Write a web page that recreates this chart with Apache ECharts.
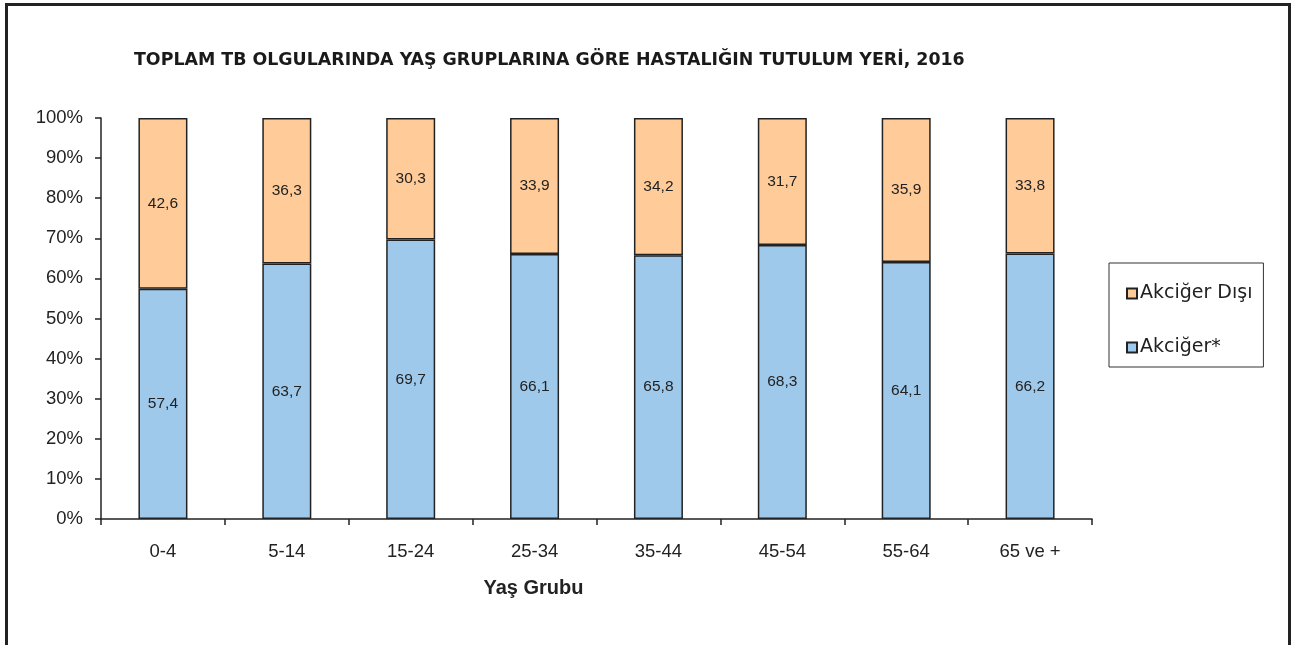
<!DOCTYPE html>
<html>
<head>
<meta charset="utf-8">
<script src="https://cdn.jsdelivr.net/npm/echarts@6/dist/echarts.min.js"></script>
<style>
html,body{margin:0;padding:0;background:#fff;}
#chart{width:1292px;height:645px;}
</style>
</head>
<body>
<div id="chart"></div>
<script>
const titleText = 'TOPLAM TB OLGULARINDA YAŞ GRUPLARINA GÖRE HASTALIĞIN TUTULUM YERİ, 2016';
const categories = ['0-4', '5-14', '15-24', '25-34', '35-44', '45-54', '55-64', '65 ve +'];
const akciger = [57.4, 63.7, 69.7, 66.1, 65.8, 68.3, 64.1, 66.2];
const akcigerDisi = [42.6, 36.3, 30.3, 33.9, 34.2, 31.7, 35.9, 33.8];
const seriesNames = ['Akciğer*', 'Akciğer Dışı'];
const xAxisName = 'Yaş Grubu';

const FONT = '"Liberation Sans", Arial, sans-serif';
const WIDE = '"DejaVu Sans", sans-serif';
const chart = echarts.init(document.getElementById('chart'), null, {renderer: 'canvas'});

const labelCfg = {
  show: true,
  position: 'inside',
  color: '#222',
  fontSize: 15.5,
  fontFamily: FONT,
  formatter: p => String(p.value).replace('.', ',')
};

chart.setOption({
  animation: false,
  backgroundColor: '#fff',
  textStyle: {fontFamily: FONT},
  graphic: [{
    type: 'rect',
    shape: {x: 6.5, y: 4.5, width: 1283, height: 700},
    style: {fill: 'none', stroke: '#222', lineWidth: 3},
    silent: true,
    z: 100
  }],
  title: {
    text: titleText,
    left: 129,
    top: 47,
    textStyle: {fontSize: 17.4, fontWeight: 'bold', color: '#1a1a1a', fontFamily: WIDE}
  },
  legend: {
    data: ['Akciğer Dışı', 'Akciğer*'],
    orient: 'vertical',
    left: 1109,
    top: 263,
    padding: [21, 11, 10, 17],
    itemGap: 35,
    itemWidth: 10,
    itemHeight: 10,
    icon: 'rect',
    borderColor: '#333',
    borderWidth: 1,
    textStyle: {fontSize: 19, color: '#222', fontFamily: WIDE, padding: [0, 0, 0, -2]}
  },
  grid: {left: 101, right: 200, top: 118, bottom: 126, containLabel: false},
  xAxis: {
    type: 'category',
    data: categories,
    axisLine: {lineStyle: {color: '#222', width: 1.5}},
    axisTick: {show: true, length: 6, lineStyle: {color: '#222', width: 1.5}},
    axisLabel: {fontSize: 18.5, color: '#222', margin: 23, fontFamily: FONT},
    name: xAxisName,
    nameLocation: 'middle',
    nameGap: 59,
    nameTextStyle: {fontSize: 20, fontWeight: 'bold', color: '#222', fontFamily: FONT, padding: [0, 126, 0, 0]}
  },
  yAxis: {
    type: 'value',
    min: 0,
    max: 100,
    interval: 10,
    splitLine: {show: false},
    axisLine: {show: true, lineStyle: {color: '#222', width: 1.5}},
    axisTick: {show: true, length: 6, lineStyle: {color: '#222', width: 1.5}},
    axisLabel: {fontSize: 18.5, color: '#222', margin: 18, formatter: '{value}%', fontFamily: FONT}
  },
  series: [
    {
      name: seriesNames[0],
      type: 'bar',
      stack: 'total',
      barWidth: 49,
      data: akciger,
      itemStyle: {color: '#9FC9EB', borderColor: '#222', borderWidth: 1.5},
      label: labelCfg
    },
    {
      name: seriesNames[1],
      type: 'bar',
      stack: 'total',
      barWidth: 49,
      data: akcigerDisi,
      itemStyle: {color: '#FFCC99', borderColor: '#222', borderWidth: 1.5},
      label: labelCfg
    }
  ]
});
</script>
</body>
</html>
